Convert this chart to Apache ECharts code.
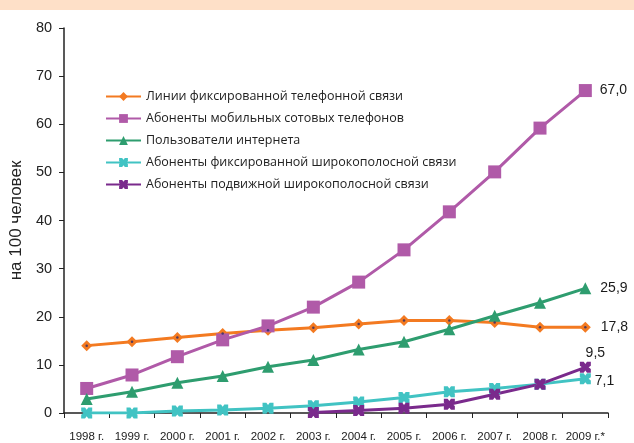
<!DOCTYPE html>
<html>
<head>
<meta charset="utf-8">
<script src="https://cdn.jsdelivr.net/npm/echarts@6/dist/echarts.min.js"></script>
<style>
html,body{margin:0;padding:0;background:#fff;}
#chart{width:634px;height:443px;}
</style>
</head>
<body>
<div id="chart"></div>
<script>
// Years on the horizontal axis
const years = ['1998 г.','1999 г.','2000 г.','2001 г.','2002 г.','2003 г.','2004 г.','2005 г.','2006 г.','2007 г.','2008 г.','2009 г.*'];

// Values per 100 people
const fixedLines   = [14.0, 14.8, 15.7, 16.5, 17.2, 17.7, 18.5, 19.2, 19.2, 18.8, 17.8, 17.8];
const mobileSubs   = [5.1, 7.9, 11.7, 15.2, 18.1, 22.0, 27.2, 33.9, 41.8, 50.1, 59.2, 67.0];
const internetUser = [2.9, 4.4, 6.3, 7.7, 9.6, 11.0, 13.2, 14.8, 17.4, 20.2, 22.9, 25.9];
const fixedBroad   = [0.0, 0.0, 0.4, 0.6, 1.0, 1.5, 2.3, 3.2, 4.4, 5.1, 6.0, 7.1];
const mobileBroad  = [null, null, null, null, null, 0.1, 0.5, 1.0, 1.8, 3.9, 6.0, 9.5];

const seriesNames = [
  'Линии фиксированной телефонной связи',
  'Абоненты мобильных сотовых телефонов',
  'Пользователи интернета',
  'Абоненты фиксированной широкополосной связи',
  'Абоненты подвижной широкополосной связи'
];
const yTicks = [0, 10, 20, 30, 40, 50, 60, 70, 80];

const colors = ['#F37A21', '#B05AA8', '#2E9D6F', '#41C3C3', '#7A2A8C'];
const crossPath = 'path://M0,0 L3.5,0 L5,2 L6.5,0 L10,0 L10,3.5 L8,5 L10,6.5 L10,10 L6.5,10 L5,8 L3.5,10 L0,10 L0,6.5 L2,5 L0,3.5 Z';

function lastLabel(pos, offset) {
  return {
    show: true,
    position: pos,
    offset: offset || [0, 0],
    color: '#1a1a1a',
    fontFamily: 'Liberation Sans',
    fontSize: 14,
    formatter: function (p) {
      return p.dataIndex === years.length - 1 ? p.value.toFixed(1).replace('.', ',') : '';
    }
  };
}

function line(name, data, color, symbol, size, label) {
  return {
    name: name,
    type: 'line',
    data: data,
    color: color,
    symbol: symbol,
    symbolSize: size,
    showAllSymbol: true,
    connectNulls: false,
    lineStyle: { width: 3, color: color },
    itemStyle: { color: color },
    label: label,
    emphasis: { disabled: true },
    animation: false
  };
}

const chart = echarts.init(document.getElementById('chart'), null, { renderer: 'canvas' });
chart.setOption({
  animation: false,
  graphic: [{
    type: 'rect',
    shape: { x: 0, y: 0, width: 634, height: 10 },
    style: { fill: '#FEE0C8' },
    silent: true
  }],
  grid: { left: 62, right: 26, top: 28, bottom: 30, containLabel: false },
  legend: {
    data: seriesNames,
    orient: 'vertical',
    left: 100,
    top: 85,
    itemWidth: 35,
    itemHeight: 11,
    itemGap: 9,
    textStyle: { fontFamily: 'Open Sans', fontSize: 12.5, color: '#222' },
    selectedMode: false
  },
  xAxis: {
    type: 'category',
    data: years,
    boundaryGap: true,
    axisLine: { lineStyle: { color: '#222', width: 1.5 } },
    axisTick: { show: true, inside: false, length: 5, lineStyle: { color: '#222' } },
    axisLabel: { color: '#222', fontFamily: 'Liberation Sans', fontSize: 11.5, margin: 18, interval: 0 }
  },
  yAxis: {
    type: 'value',
    min: yTicks[0],
    max: yTicks[yTicks.length - 1],
    interval: 10,
    name: 'на 100 человек',
    nameLocation: 'middle',
    nameGap: 39,
    nameTextStyle: { fontFamily: 'Liberation Sans', fontSize: 17, color: '#222' },
    axisLine: { show: true, lineStyle: { color: '#222', width: 1.5 } },
    axisTick: { show: true, inside: false, length: 5, lineStyle: { color: '#222' } },
    axisLabel: { color: '#222', fontFamily: 'Liberation Sans', fontSize: 14.5, margin: 12 },
    splitLine: { show: false }
  },
  series: [
    line(seriesNames[0], fixedLines, colors[0], 'diamond', 11, lastLabel('right', [5, 0])),
    line(seriesNames[1], mobileSubs, colors[1], 'rect', 13, lastLabel('right', [3, 0])),
    line(seriesNames[2], internetUser, colors[2], 'triangle', 12, lastLabel('right', [4, 0])),
    line(seriesNames[3], fixedBroad, colors[3], crossPath, 11, lastLabel('right', [-1, 2])),
    line(seriesNames[4], mobileBroad, colors[4], crossPath, 11, lastLabel('top', [10, 3])),
    {
      // small dark centre dots on the diamond markers
      name: 'dots',
      type: 'scatter',
      data: fixedLines,
      symbol: 'circle',
      symbolSize: 2.5,
      itemStyle: { color: '#2a2a6a' },
      silent: true,
      z: 5,
      animation: false
    }
  ]
});
</script>
</body>
</html>
